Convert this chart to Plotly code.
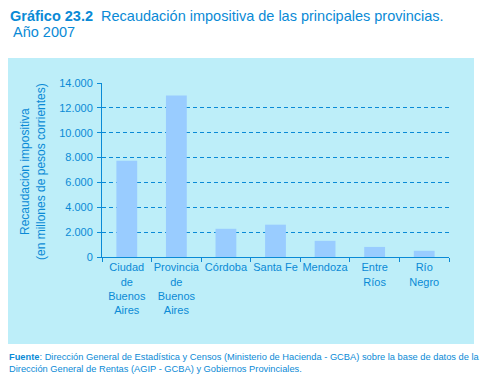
import plotly.graph_objects as go

categories = ["Ciudad<br>de<br>Buenos<br>Aires", "Provincia<br>de<br>Buenos<br>Aires", "Córdoba",
              "Santa Fe", "Mendoza", "Entre<br>Ríos", "Río<br>Negro"]
values = [7750, 13000, 2270, 2600, 1300, 810, 500]
tick_vals = [0, 2000, 4000, 6000, 8000, 10000, 12000, 14000]

W, H = 499, 382
OFF = 8  # page body margin compensation
PL, PR, PT, PB = 102, 449, 83, 257  # plot area in target pixels
ML, MT = PL - OFF, PT - OFF
MR, MB = W - (PR - OFF), H - (PB - OFF)
PW, PH = PR - PL, PB - PT

def px(x):
    return (x - PL) / PW

def py(y):
    return (PB - y) / PH

BLUE = "#0a8ad6"
PANEL = "#bdeef9"
BAR = "#99ccff"
FONT = "Liberation Sans, Arial, sans-serif"

fig = go.Figure(go.Bar(x=categories, y=values, marker_color=BAR, marker_line_width=0))

fig.update_layout(
    template="none",
    width=W, height=H,
    margin=dict(l=ML, r=MR, t=MT, b=MB, autoexpand=False),
    paper_bgcolor="white", plot_bgcolor="white",
    separators=",.",
    bargap=0.58,
    showlegend=False,
    font=dict(family=FONT, color=BLUE, size=11),
)
fig.update_xaxes(
    automargin=False, tickangle=0,
    showline=True, linecolor=BLUE, linewidth=1,
    ticks="outside", tickson="boundaries", ticklen=4, tickcolor=BLUE,
    tickfont=dict(size=11, color=BLUE, family=FONT),
    showgrid=False, zeroline=False,
)
fig.update_yaxes(
    automargin=False,
    range=[0, 14000], tickvals=tick_vals, tickformat=",d",
    showline=True, linecolor=BLUE, linewidth=1,
    ticks="outside", ticklen=4, tickcolor=BLUE, ticklabelstandoff=2,
    tickfont=dict(size=11, color=BLUE, family=FONT),
    showgrid=True, gridcolor=BLUE, griddash="4px,3px", gridwidth=1,
    zeroline=False,
)

fig.add_shape(type="rect", xref="paper", yref="paper",
              x0=px(6), x1=px(474), y0=py(344), y1=py(58),
              fillcolor=PANEL, line_width=0, layer="below")

fig.add_annotation(xref="paper", yref="paper", x=px(33), y=py(172),
                   text="Recaudación impositiva<br>(en millones de pesos corrientes)",
                   textangle=-90, showarrow=False, xanchor="center", yanchor="middle",
                   font=dict(size=12, color=BLUE, family=FONT))

fig.add_annotation(xref="paper", yref="paper", x=px(8), y=py(6),
                   text="<b>Gráfico 23.2</b>  Recaudación impositiva de las principales provincias.",
                   showarrow=False, xanchor="left", yanchor="top",
                   font=dict(size=14.5, color=BLUE, family=FONT))
fig.add_annotation(xref="paper", yref="paper", x=px(11), y=py(22),
                   text="Año 2007",
                   showarrow=False, xanchor="left", yanchor="top",
                   font=dict(size=14.5, color=BLUE, family=FONT))

fig.add_annotation(xref="paper", yref="paper", x=px(7), y=py(350),
                   text="<b>Fuente</b>: Dirección General de Estadística y Censos (Ministerio de Hacienda - GCBA) sobre la base de datos de la<br>Dirección General de Rentas (AGIP - GCBA) y Gobiernos Provinciales.",
                   showarrow=False, xanchor="left", yanchor="top", align="left",
                   font=dict(size=9.3, color=BLUE, family=FONT))

fig.write_html("out.html")
